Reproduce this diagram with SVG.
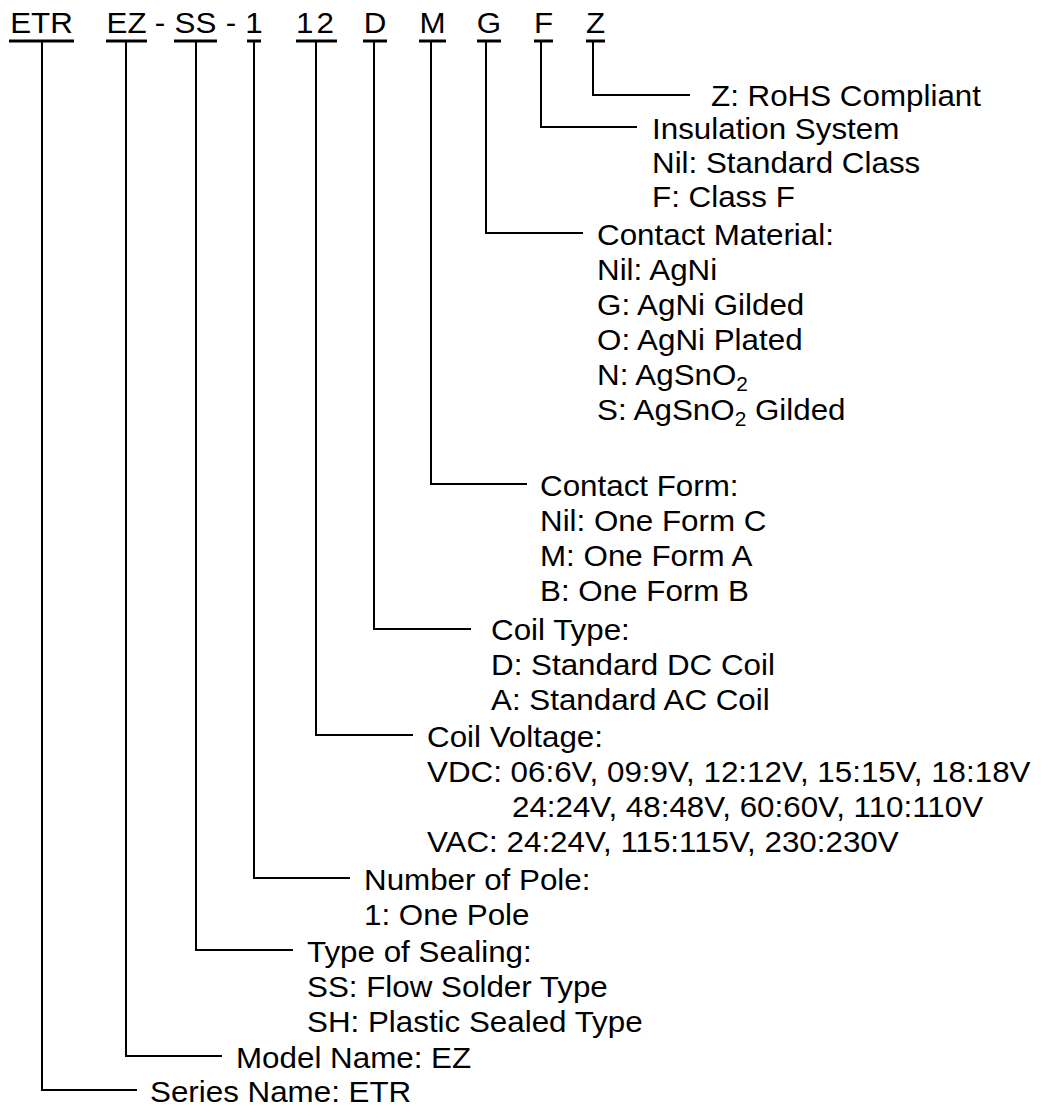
<svg xmlns="http://www.w3.org/2000/svg" width="1047" height="1108" viewBox="0 0 1047 1108">
<style>
text{font-family:"Liberation Sans",Arial,sans-serif;font-size:30px;fill:#000}
.h{text-anchor:middle}
.ul{stroke:#000;stroke-width:3}
.c{fill:none;stroke:#000;stroke-width:2}
</style>
<rect width="1047" height="1108" fill="#fff"/>
<g id="header">
<g transform="translate(41.5 0) scale(1.045 1)"><text class="h" x="0" y="33">ETR</text></g>
<g transform="translate(126.5 0) scale(1.045 1)"><text class="h" x="0" y="33">EZ</text></g>
<g transform="translate(160 0) scale(1.045 1)"><text class="h" x="0" y="33">-</text></g>
<g transform="translate(195.5 0) scale(1.045 1)"><text class="h" x="0" y="33">SS</text></g>
<g transform="translate(231 0) scale(1.045 1)"><text class="h" x="0" y="33">-</text></g>
<g transform="translate(254 0) scale(1.045 1)"><text class="h" x="0" y="33">1</text></g>
<g transform="translate(316.5 0) scale(1.045 1)"><text class="h" x="0" y="33" letter-spacing="3">12</text></g>
<g transform="translate(375 0) scale(1.045 1)"><text class="h" x="0" y="33">D</text></g>
<g transform="translate(432.5 0) scale(1.045 1)"><text class="h" x="0" y="33">M</text></g>
<g transform="translate(489 0) scale(1.045 1)"><text class="h" x="0" y="33">G</text></g>
<g transform="translate(543.5 0) scale(1.045 1)"><text class="h" x="0" y="33">F</text></g>
<g transform="translate(595.5 0) scale(1.045 1)"><text class="h" x="0" y="33">Z</text></g>
<line class="ul" x1="9" y1="41" x2="74" y2="41"/>
<line class="ul" x1="106" y1="41" x2="147" y2="41"/>
<line class="ul" x1="174" y1="41" x2="217" y2="41"/>
<line class="ul" x1="247" y1="41" x2="261" y2="41"/>
<line class="ul" x1="296" y1="41" x2="337" y2="41"/>
<line class="ul" x1="363" y1="41" x2="387" y2="41"/>
<line class="ul" x1="419" y1="41" x2="446" y2="41"/>
<line class="ul" x1="477" y1="41" x2="501" y2="41"/>
<line class="ul" x1="534" y1="41" x2="553" y2="41"/>
<line class="ul" x1="586" y1="41" x2="605" y2="41"/>
</g>
<g id="connectors">
<polyline class="c" points="593,42 593,95 690,95"/>
<polyline class="c" points="541,42 541,127 637,127"/>
<polyline class="c" points="486,42 486,233 583,233"/>
<polyline class="c" points="431,42 431,484 527,484"/>
<polyline class="c" points="374,42 374,629 471,629"/>
<polyline class="c" points="316,42 316,735 413,735"/>
<polyline class="c" points="254,42 254,878 350,878"/>
<polyline class="c" points="196,42 196,950 293,950"/>
<polyline class="c" points="126,42 126,1056 222,1056"/>
<polyline class="c" points="42,42 42,1090 137,1090"/>
</g>
<g id="rohs" transform="translate(711 0) scale(1.045 1)"><text x="0" y="106">Z: RoHS Compliant</text></g>
<g id="insulation" transform="translate(652 0) scale(1.045 1)">
<text x="0" y="139">Insulation System</text>
<text x="0" y="173">Nil: Standard Class</text>
<text x="0" y="207">F: Class F</text>
</g>
<g id="contact-material" transform="translate(597 0) scale(1.045 1)">
<text x="0" y="245">Contact Material:</text>
<text x="0" y="280">Nil: AgNi</text>
<text x="0" y="315">G: AgNi Gilded</text>
<text x="0" y="350">O: AgNi Plated</text>
<text x="0" y="385">N: AgSnO<tspan font-size="20" dy="6">2</tspan></text>
<text x="0" y="420">S: AgSnO<tspan font-size="20" dy="6">2</tspan><tspan dy="-6"> Gilded</tspan></text>
</g>
<g id="contact-form" transform="translate(540 0) scale(1.045 1)">
<text x="0" y="496">Contact Form:</text>
<text x="0" y="531">Nil: One Form C</text>
<text x="0" y="566">M: One Form A</text>
<text x="0" y="601">B: One Form B</text>
</g>
<g id="coil-type" transform="translate(491 0) scale(1.045 1)">
<text x="0" y="640">Coil Type:</text>
<text x="0" y="675">D: Standard DC Coil</text>
<text x="0" y="710">A: Standard AC Coil</text>
</g>
<g id="coil-voltage" transform="translate(427 0) scale(1.045 1)">
<text x="0" y="747">Coil Voltage:</text>
<text x="0" y="782">VDC: 06:6V, 09:9V, 12:12V, 15:15V, 18:18V</text>
<text x="81.3" y="817">24:24V, 48:48V, 60:60V, 110:110V</text>
<text x="0" y="852">VAC: 24:24V, 115:115V, 230:230V</text>
</g>
<g id="pole" transform="translate(364 0) scale(1.045 1)">
<text x="0" y="890">Number of Pole:</text>
<text x="0" y="925">1: One Pole</text>
</g>
<g id="sealing" transform="translate(307 0) scale(1.045 1)">
<text x="0" y="962">Type of Sealing:</text>
<text x="0" y="997">SS: Flow Solder Type</text>
<text x="0" y="1032">SH: Plastic Sealed Type</text>
</g>
<g id="model" transform="translate(236 0) scale(1.045 1)"><text x="0" y="1068">Model Name: EZ</text></g>
<g id="series" transform="translate(150 0) scale(1.045 1)"><text x="0" y="1102">Series Name: ETR</text></g>
</svg>
